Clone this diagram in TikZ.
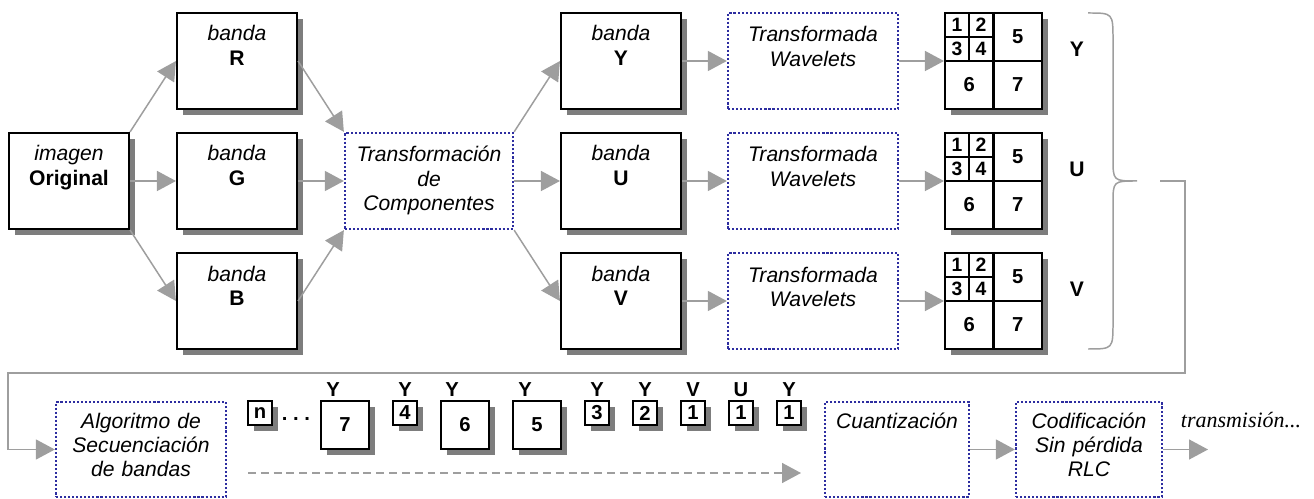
\documentclass[tikz,border=0pt]{standalone}
\usepackage{fontspec}
\setmainfont{Liberation Sans}
\newfontfamily\romana{Liberation Serif}
\usepackage{tikz}
\usetikzlibrary{arrows.meta,shadows}
\definecolor{azul}{RGB}{45,45,160}
\definecolor{gris}{RGB}{158,158,158}
\definecolor{sombra}{RGB}{125,125,125}
\tikzset{
  sombreado/.style={drop shadow={shadow xshift=0.12cm,shadow yshift=-0.12cm,fill=sombra,opacity=1}},
  caja/.style={draw,line width=1.2pt,fill=white,inner sep=0pt,align=center,text width=2.4cm,
    text height=0.56cm,text depth=1.36cm,font=\fontsize{12}{13.9}\selectfont,sombreado},
  proceso/.style={draw=azul,line width=1.3pt,dash pattern=on 1.2pt off 1.1pt,inner sep=0pt,
    align=center,text width=#1,text height=0.58cm,text depth=1.34cm,
    font=\fontsize{12}{13.9}\selectfont\itshape},
  proceso/.default=3.4cm,
  proceso abajo/.style={proceso=#1,text height=0.52cm,text depth=1.38cm},
  rejilla/.style={draw,line width=1.2pt,fill=white,inner sep=0pt,minimum width=1.94cm,
    minimum height=1.92cm,sombreado},
  num/.style={inner sep=0pt,font=\bfseries\fontsize{11.5}{12}\selectfont},
  num chico/.style={inner sep=0pt,font=\bfseries\fontsize{11}{12}\selectfont},
  letra/.style={inner sep=0pt,anchor=base,font=\bfseries\fontsize{11.5}{12}\selectfont},
  bloque/.style={draw,line width=1.2pt,fill=white,inner sep=0pt,minimum size=0.49cm,
    font=\bfseries\fontsize{11.5}{12}\selectfont,sombreado},
  bloque grande/.style={bloque,minimum size=0.96cm,font=\bfseries\fontsize{11.5}{12}\selectfont},
  flecha/.style={draw=gris,line width=0.85pt,-{Triangle[length=0.38cm,width=0.4cm]}}
}
\begin{document}
\begin{tikzpicture}[x=0.02cm,y=-0.02cm]
  \useasboundingbox (0,0) rectangle (1314,499);

  \node[caja] (orig) at (69,181) {\textit{imagen}\\\textbf{Original}};
  \node[caja] (R) at (237,61) {\textit{banda}\\\textbf{R}};
  \node[caja] (G) at (237,181) {\textit{banda}\\\textbf{G}};
  \node[caja] (B) at (237,301) {\textit{banda}\\\textbf{B}};
  \node[proceso=3.36cm] (transf) at (429,181) {Transformación\\de\\Componentes};

  \draw[flecha] (orig.north east) -- (R.west);
  \draw[flecha] (orig.east) -- (G.west);
  \draw[flecha] (orig.south east) -- (B.west);
  \draw[flecha] (R.east) -- (transf.north west);
  \draw[flecha] (G.east) -- (transf.west);
  \draw[flecha] (B.east) -- (transf.south west);

  \foreach \yy/\b in {61/Y,181/U,301/V}{
    \node[caja] (banda\b) at (621,\yy) {\textit{banda}\\\textbf{\b}};
    \node[proceso] (wave\b) at (813,\yy) {Transformada\\Wavelets};
    \node[rejilla] (grid\b) at (993.5,\yy) {};
    \draw[line width=1.2pt] (grid\b.north) -- (grid\b.south) (grid\b.west) -- (grid\b.east)
      (969,{\yy-48}) -- (969,\yy) (945,{\yy-24}) -- (993.5,{\yy-24});
    \node[num chico] (grid\b-1) at (957,{\yy-36}) {1};
    \node[num chico] (grid\b-2) at (981,{\yy-36}) {2};
    \node[num chico] (grid\b-3) at (957,{\yy-12}) {3};
    \node[num chico] (grid\b-4) at (981,{\yy-12}) {4};
    \node[num] (grid\b-5) at (1017.75,{\yy-24}) {5};
    \node[num] (grid\b-6) at (969.25,{\yy+24}) {6};
    \node[num] (grid\b-7) at (1017.75,{\yy+24}) {7};
    \node[letra,font=\bfseries\fontsize{12}{12}\selectfont] (letra\b) at (1077,{\yy-4}) {\b};
    \draw[flecha] (banda\b) -- (wave\b);
    \draw[flecha] (wave\b) -- (grid\b);
  }
  \draw[flecha] (transf.north east) -- (bandaY.west);
  \draw[flecha] (transf.east) -- (bandaU.west);
  \draw[flecha] (transf.south east) -- (bandaV.west);

  \draw[gris,line width=0.85pt] (1088,13) .. controls (1113,13) .. (1113,40) -- (1113,158)
    .. controls (1113,181) .. (1137,181) .. controls (1113,181) .. (1113,204) -- (1113,322)
    .. controls (1113,349) .. (1088,349);

  \node[proceso abajo] (alg) at (141,449.5) {Algoritmo de\\Secuenciación\\de bandas};
  \node[proceso abajo=2.88cm] (cuant) at (897,449.5) {Cuantización};
  \node[proceso abajo=2.92cm] (cod) at (1089,449.5) {Codificación\\Sin pérdida\\RLC};

  \coordinate (retorno) at (1160,181);
  \draw[flecha] (retorno) -- ++(25,0) |- (8,373) |- (alg.west);

  \node[bloque] (bn) at (260,413) {n};
  \node[letra] (puntos) at (296,420) {.~.~.};
  \node[bloque grande] (b7) at (345,425) {7};
  \node[bloque] (b4) at (405,413) {4};
  \node[bloque grande] (b6) at (465,425) {6};
  \node[bloque grande] (b5) at (537,425) {5};
  \node[bloque] (b3) at (597,413) {3};
  \node[bloque] (b2) at (645,413) {2};
  \node[bloque] (b1v) at (693,413) {1};
  \node[bloque] (b1u) at (741,413) {1};
  \node[bloque] (b1y) at (789,413) {1};
  \node[letra] (l7) at (333,397) {Y};
  \node[letra] (l4) at (405,397) {Y};
  \node[letra] (l6) at (452,397) {Y};
  \node[letra] (l5) at (525,397) {Y};
  \node[letra] (l3) at (597,397) {Y};
  \node[letra] (l2) at (645,397) {Y};
  \node[letra] (l1v) at (693,397) {V};
  \node[letra] (l1u) at (741,397) {U};
  \node[letra] (l1y) at (789,397) {Y};

  \coordinate (cola) at (248,473);
  \coordinate (punta) at (801,473);
  \draw[flecha,dash pattern=on 4.5pt off 2.8pt] (cola) -- (punta);

  \draw[flecha] (cuant) -- (cod);
  \coordinate (salida) at (1208,449.5);
  \draw[flecha] (cod.east) -- (salida);
  \node[anchor=base,inner sep=0pt,font=\romana\itshape\fontsize{12.5}{14}\selectfont] (tx) at (1241,427) {transmisión...};
\end{tikzpicture}
\end{document}
